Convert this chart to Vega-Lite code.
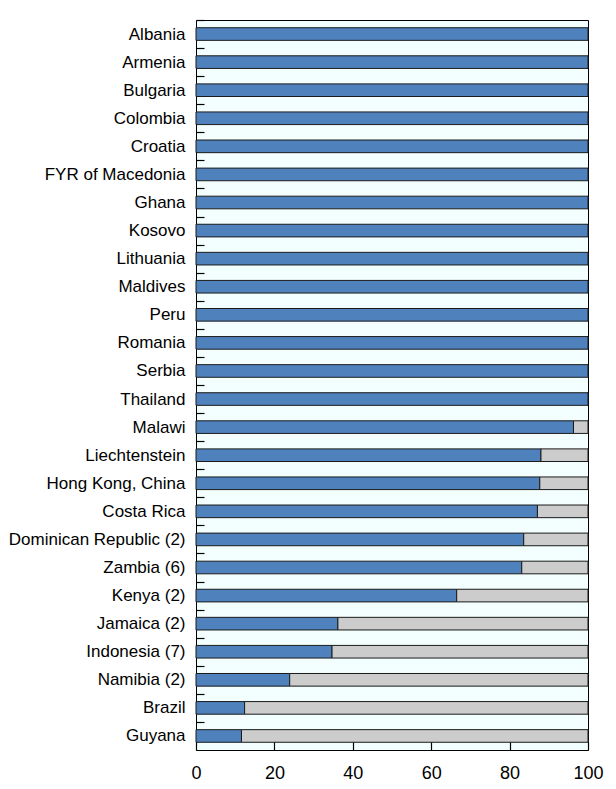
{
  "$schema": "https://vega.github.io/schema/vega-lite/v6.json",
  "width": 392,
  "height": 730,
  "autosize": "none",
  "padding": {"left": 196, "top": 20, "right": 28, "bottom": 39},
  "background": "white",
  "config": {
    "view": {"stroke": "black", "strokeWidth": 1, "fill": "#F3FFFF"},
    "font": "Liberation Sans"
  },
  "data": {
    "values": [
      {"country": "Albania", "part": "a", "value": 100},
      {"country": "Armenia", "part": "a", "value": 100},
      {"country": "Bulgaria", "part": "a", "value": 100},
      {"country": "Colombia", "part": "a", "value": 100},
      {"country": "Croatia", "part": "a", "value": 100},
      {"country": "FYR of Macedonia", "part": "a", "value": 100},
      {"country": "Ghana", "part": "a", "value": 100},
      {"country": "Kosovo", "part": "a", "value": 100},
      {"country": "Lithuania", "part": "a", "value": 100},
      {"country": "Maldives", "part": "a", "value": 100},
      {"country": "Peru", "part": "a", "value": 100},
      {"country": "Romania", "part": "a", "value": 100},
      {"country": "Serbia", "part": "a", "value": 100},
      {"country": "Thailand", "part": "a", "value": 100},
      {"country": "Malawi", "part": "a", "value": 96.3},
      {"country": "Malawi", "part": "b", "value": 3.7},
      {"country": "Liechtenstein", "part": "a", "value": 88.0},
      {"country": "Liechtenstein", "part": "b", "value": 12.0},
      {"country": "Hong Kong, China", "part": "a", "value": 87.7},
      {"country": "Hong Kong, China", "part": "b", "value": 12.3},
      {"country": "Costa Rica", "part": "a", "value": 87.1},
      {"country": "Costa Rica", "part": "b", "value": 12.9},
      {"country": "Dominican Republic (2)", "part": "a", "value": 83.6},
      {"country": "Dominican Republic (2)", "part": "b", "value": 16.4},
      {"country": "Zambia (6)", "part": "a", "value": 83.1},
      {"country": "Zambia (6)", "part": "b", "value": 16.9},
      {"country": "Kenya (2)", "part": "a", "value": 66.5},
      {"country": "Kenya (2)", "part": "b", "value": 33.5},
      {"country": "Jamaica (2)", "part": "a", "value": 36.2},
      {"country": "Jamaica (2)", "part": "b", "value": 63.8},
      {"country": "Indonesia (7)", "part": "a", "value": 34.7},
      {"country": "Indonesia (7)", "part": "b", "value": 65.3},
      {"country": "Namibia (2)", "part": "a", "value": 23.9},
      {"country": "Namibia (2)", "part": "b", "value": 76.1},
      {"country": "Brazil", "part": "a", "value": 12.4},
      {"country": "Brazil", "part": "b", "value": 87.6},
      {"country": "Guyana", "part": "a", "value": 11.6},
      {"country": "Guyana", "part": "b", "value": 88.4}
    ]
  },
  "mark": {"type": "bar", "stroke": "#1a1a1a", "strokeWidth": 1},
  "encoding": {
    "y": {
      "field": "country",
      "type": "nominal",
      "sort": null,
      "scale": {"paddingInner": 0.55, "paddingOuter": 0.275},
      "axis": {
        "title": null,
        "domain": false,
        "zindex": 1,
        "tickOffset": -14.04,
        "labelOffset": 14.04,
        "tickSize": -8,
        "tickWidth": 1.2,
        "tickColor": "black",
        "labelFontSize": 17,
        "labelColor": "black",
        "labelPadding": 19,
        "labelFont": "Liberation Sans"
      }
    },
    "x": {
      "field": "value",
      "type": "quantitative",
      "stack": "zero",
      "scale": {"domain": [0, 100], "nice": false},
      "axis": {
        "title": null,
        "domain": false,
        "zindex": 1,
        "grid": false,
        "values": [0, 20, 40, 60, 80, 100],
        "tickSize": -8,
        "tickWidth": 1.2,
        "tickColor": "black",
        "labelFontSize": 18,
        "labelColor": "black",
        "labelPadding": 22,
        "labelFont": "Liberation Sans",
        "labelFlush": false
      }
    },
    "color": {
      "field": "part",
      "type": "nominal",
      "scale": {"domain": ["a", "b"], "range": ["#4F81BD", "#CCCCCC"]},
      "legend": null
    },
    "order": {"field": "part", "type": "nominal", "sort": "ascending"}
  }
}
